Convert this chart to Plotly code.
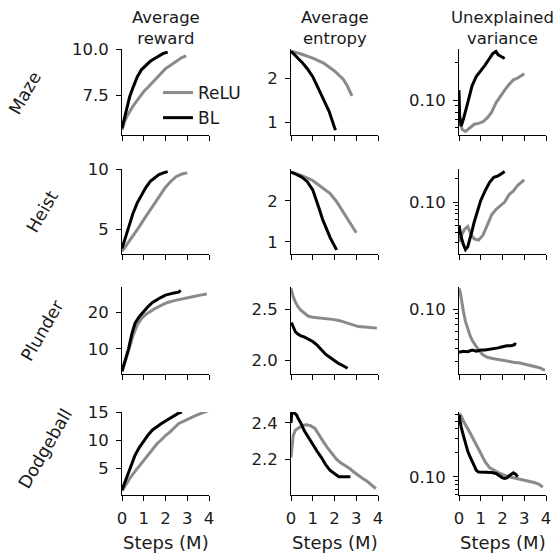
import math
import plotly.graph_objects as go

# ---------------- data ----------------
games = ["Maze", "Heist", "Plunder", "Dodgeball"]
metrics = ["Average<br>reward", "Average<br>entropy", "Unexplained<br>variance"]
series_names = ["ReLU", "BL"]

# Maze
maze_reward_relu_x = [0, 0.1, 0.25, 0.5, 0.75, 1.0, 1.25, 1.5, 1.75, 2.0, 2.25, 2.5, 2.75, 2.95]
maze_reward_relu_y = [5.6, 6.0, 6.4, 6.9, 7.3, 7.7, 8.0, 8.3, 8.6, 8.95, 9.15, 9.35, 9.55, 9.65]
maze_reward_bl_x = [0, 0.1, 0.2, 0.35, 0.5, 0.7, 0.9, 1.1, 1.3, 1.5, 1.7, 1.9, 2.1]
maze_reward_bl_y = [5.7, 6.2, 6.7, 7.4, 7.9, 8.5, 8.9, 9.15, 9.35, 9.5, 9.65, 9.78, 9.85]
maze_entropy_relu_x = [0, 0.5, 1.0, 1.5, 2.0, 2.4, 2.6, 2.8]
maze_entropy_relu_y = [2.62, 2.55, 2.46, 2.35, 2.17, 1.98, 1.82, 1.6]
maze_entropy_bl_x = [0, 0.25, 0.5, 0.75, 1.0, 1.25, 1.5, 1.75, 2.0, 2.05]
maze_entropy_bl_y = [2.62, 2.5, 2.37, 2.22, 2.04, 1.78, 1.52, 1.25, 0.88, 0.82]
maze_var_relu_x = [0.05, 0.15, 0.3, 0.5, 0.7, 0.9, 1.1, 1.3, 1.5, 1.7, 1.9, 2.1, 2.3, 2.5, 2.7, 2.9, 3.0]
maze_var_relu_y = [0.065, 0.058, 0.056, 0.06, 0.064, 0.065, 0.067, 0.072, 0.08, 0.095, 0.108, 0.12, 0.133, 0.145, 0.15, 0.157, 0.162]
maze_var_bl_x = [0, 0.03, 0.1, 0.2, 0.4, 0.6, 0.8, 1.0, 1.2, 1.4, 1.55, 1.7, 1.8, 1.9, 2.0, 2.1]
maze_var_bl_y = [0.12, 0.075, 0.062, 0.07, 0.095, 0.13, 0.155, 0.17, 0.19, 0.215, 0.235, 0.245, 0.23, 0.225, 0.22, 0.215]

# Heist
heist_reward_relu_x = [0, 0.1, 0.25, 0.5, 0.75, 1.0, 1.25, 1.5, 1.75, 2.0, 2.25, 2.5, 2.75, 3.0]
heist_reward_relu_y = [3.2, 3.4, 3.8, 4.4, 5.1, 5.8, 6.5, 7.2, 7.9, 8.5, 9.0, 9.4, 9.6, 9.7]
heist_reward_bl_x = [0, 0.1, 0.2, 0.35, 0.5, 0.7, 0.9, 1.1, 1.3, 1.5, 1.7, 1.9, 2.1]
heist_reward_bl_y = [3.4, 4.0, 4.6, 5.5, 6.3, 7.2, 7.9, 8.5, 9.0, 9.3, 9.55, 9.7, 9.8]
heist_entropy_relu_x = [0, 0.5, 1.0, 1.4, 1.8, 2.1, 2.4, 2.7, 3.0]
heist_entropy_relu_y = [2.7, 2.62, 2.5, 2.35, 2.18, 1.98, 1.72, 1.45, 1.22]
heist_entropy_bl_x = [0, 0.25, 0.5, 0.75, 1.0, 1.15, 1.3, 1.45, 1.6, 1.8, 2.0, 2.1]
heist_entropy_bl_y = [2.7, 2.65, 2.58, 2.47, 2.27, 2.05, 1.8, 1.55, 1.35, 1.1, 0.9, 0.8]
heist_var_relu_x = [0, 0.1, 0.25, 0.4, 0.55, 0.7, 0.9, 1.1, 1.3, 1.5, 1.7, 1.9, 2.1, 2.3, 2.5, 2.7, 2.9, 3.0]
heist_var_relu_y = [0.03, 0.036, 0.044, 0.048, 0.038, 0.033, 0.032, 0.037, 0.05, 0.068, 0.08, 0.09, 0.1, 0.125, 0.14, 0.165, 0.185, 0.195]
heist_var_bl_x = [0, 0.1, 0.2, 0.3, 0.4, 0.5, 0.6, 0.7, 0.8, 0.9, 1.0, 1.2, 1.4, 1.6, 1.8, 2.0, 2.1]
heist_var_bl_y = [0.05, 0.035, 0.028, 0.024, 0.026, 0.032, 0.042, 0.055, 0.068, 0.085, 0.105, 0.14, 0.18, 0.21, 0.22, 0.24, 0.25]

# Plunder
plunder_reward_relu_x = [0, 0.1, 0.2, 0.35, 0.5, 0.7, 0.9, 1.1, 1.3, 1.5, 1.8, 2.1, 2.4, 2.7, 3.0, 3.3, 3.6, 3.9]
plunder_reward_relu_y = [3.8, 5.5, 7.5, 10.5, 13.5, 16.5, 18.3, 19.4, 20.2, 20.9, 21.8, 22.6, 23.1, 23.4, 23.8, 24.2, 24.6, 24.9]
plunder_reward_bl_x = [0, 0.1, 0.2, 0.3, 0.45, 0.6, 0.8, 1.0, 1.2, 1.4, 1.6, 1.8, 2.0, 2.2, 2.4, 2.6, 2.7]
plunder_reward_bl_y = [4, 6, 8, 10, 14, 17, 18.8, 20.2, 21.5, 22.6, 23.4, 24, 24.6, 25, 25.2, 25.4, 25.9]
plunder_entropy_relu_x = [0, 0.05, 0.1, 0.2, 0.3, 0.45, 0.6, 0.8, 1.0, 1.3, 1.6, 1.9, 2.2, 2.5, 2.8, 3.1, 3.4, 3.7, 3.95]
plunder_entropy_relu_y = [2.70, 2.66, 2.62, 2.57, 2.53, 2.49, 2.46, 2.43, 2.42, 2.415, 2.41, 2.4, 2.39, 2.37, 2.35, 2.33, 2.325, 2.32, 2.315]
plunder_entropy_bl_x = [0.02, 0.1, 0.2, 0.3, 0.45, 0.6, 0.8, 1.0, 1.2, 1.4, 1.6, 1.8, 2.0, 2.2, 2.4, 2.6]
plunder_entropy_bl_y = [2.37, 2.33, 2.28, 2.26, 2.24, 2.23, 2.21, 2.185, 2.15, 2.1, 2.06, 2.03, 2.0, 1.97, 1.95, 1.925]
plunder_var_relu_x = [0, 0.05, 0.1, 0.15, 0.2, 0.3, 0.4, 0.5, 0.6, 0.75, 0.9, 1.1, 1.3, 1.6, 1.9, 2.2, 2.5, 2.8, 3.1, 3.4, 3.7, 3.95]
plunder_var_relu_y = [0.16, 0.15, 0.13, 0.11, 0.095, 0.075, 0.063, 0.055, 0.049, 0.043, 0.039, 0.035, 0.033, 0.032, 0.031, 0.030, 0.0295, 0.029, 0.028, 0.027, 0.026, 0.0245]
plunder_var_bl_x = [0, 0.2, 0.4, 0.6, 0.8, 1.0, 1.2, 1.4, 1.6, 1.8, 2.0, 2.2, 2.4, 2.55, 2.6]
plunder_var_bl_y = [0.037, 0.038, 0.0375, 0.039, 0.038, 0.039, 0.039, 0.0395, 0.04, 0.041, 0.042, 0.043, 0.043, 0.044, 0.046]

# Dodgeball
dodge_reward_relu_x = [0, 0.2, 0.4, 0.6, 0.8, 1.0, 1.2, 1.4, 1.6, 1.8, 2.0, 2.2, 2.4, 2.6, 2.8, 3.0, 3.3, 3.6, 3.95]
dodge_reward_relu_y = [1.0, 2.3, 3.5, 4.5, 5.5, 6.5, 7.5, 8.5, 9.4, 10.1, 10.9, 11.5, 12.3, 13.0, 13.4, 13.8, 14.3, 14.8, 15.3]
dodge_reward_bl_x = [0, 0.1, 0.2, 0.3, 0.45, 0.6, 0.8, 1.0, 1.2, 1.4, 1.6, 1.8, 2.0, 2.2, 2.4, 2.6, 2.75]
dodge_reward_bl_y = [1.2, 2.3, 3.4, 4.5, 6.0, 7.4, 8.8, 10.0, 11.0, 11.9, 12.5, 13.0, 13.5, 14.0, 14.5, 14.9, 15.1]
dodge_entropy_relu_x = [0, 0.05, 0.1, 0.2, 0.35, 0.5, 0.7, 0.9, 1.1, 1.3, 1.5, 1.7, 1.9, 2.1, 2.3, 2.5, 2.7, 2.9, 3.1, 3.3, 3.5, 3.7, 3.9]
dodge_entropy_relu_y = [2.21, 2.29, 2.33, 2.36, 2.375, 2.385, 2.39, 2.385, 2.37, 2.33, 2.295, 2.26, 2.23, 2.2, 2.18, 2.165, 2.15, 2.13, 2.11, 2.095, 2.08, 2.06, 2.04]
dodge_entropy_bl_x = [0, 0.03, 0.08, 0.15, 0.25, 0.35, 0.45, 0.6, 0.8, 1.0, 1.2, 1.4, 1.6, 1.8, 2.0, 2.2, 2.4, 2.6, 2.73]
dodge_entropy_bl_y = [2.40, 2.45, 2.46, 2.455, 2.445, 2.42, 2.40, 2.36, 2.32, 2.28, 2.245, 2.21, 2.17, 2.14, 2.12, 2.105, 2.105, 2.105, 2.105]
dodge_var_relu_x = [0, 0.1, 0.2, 0.35, 0.5, 0.65, 0.8, 1.0, 1.2, 1.4, 1.6, 1.8, 2.0, 2.3, 2.6, 2.9, 3.2, 3.5, 3.7, 3.85]
dodge_var_relu_y = [0.62, 0.58, 0.5, 0.43, 0.36, 0.3, 0.25, 0.195, 0.155, 0.13, 0.12, 0.113, 0.107, 0.1, 0.096, 0.092, 0.088, 0.084, 0.08, 0.074]
dodge_var_bl_x = [0, 0.05, 0.1, 0.2, 0.3, 0.4, 0.5, 0.6, 0.7, 0.8, 0.9, 1.1, 1.3, 1.5, 1.7, 1.9, 2.0, 2.1, 2.2, 2.3, 2.4, 2.5, 2.6, 2.7]
dodge_var_bl_y = [0.6, 0.5, 0.42, 0.33, 0.26, 0.21, 0.18, 0.155, 0.135, 0.12, 0.115, 0.115, 0.115, 0.113, 0.11, 0.1, 0.097, 0.095, 0.097, 0.102, 0.108, 0.112, 0.108, 0.1]

# tick labels
x_ticks = [0, 1, 2, 3, 4]
reward_ticks = [[7.5, 10.0], [5, 10], [10, 20], [5, 10, 15]]
reward_ticktext = [["7.5", "10.0"], ["5", "10"], ["10", "20"], ["5", "10", "15"]]
entropy_ticks = [[1, 2], [1, 2], [2.0, 2.5], [2.2, 2.4]]
entropy_ticktext = [["1", "2"], ["1", "2"], ["2.0", "2.5"], ["2.2", "2.4"]]
var_ticks = [0.1]
var_ticktext = ["0.10"]
var_minor = [0.02, 0.03, 0.04, 0.05, 0.06, 0.07, 0.08, 0.09, 0.2, 0.3, 0.4, 0.5, 0.6, 0.7, 0.8, 0.9]

# ---------------- layout ----------------
W, H = 560, 553
col_px = [(122, 209), (291, 378), (459, 546)]
row_px = [(49, 135), (169, 254), (287, 374), (412, 495)]
y_ranges = [
    [(5.33, 10.02), (0.71, 2.67), (0.0525, 0.256)],
    [(2.94, 10.02), (0.70, 2.78), (0.021, 0.27)],
    [(3.2, 26.8), (1.87, 2.714), (0.0225, 0.166)],
    [(0.3, 15.1), (2.005, 2.46), (0.059, 0.65)],
]

data = [
    [(maze_reward_relu_x, maze_reward_relu_y, maze_reward_bl_x, maze_reward_bl_y),
     (maze_entropy_relu_x, maze_entropy_relu_y, maze_entropy_bl_x, maze_entropy_bl_y),
     (maze_var_relu_x, maze_var_relu_y, maze_var_bl_x, maze_var_bl_y)],
    [(heist_reward_relu_x, heist_reward_relu_y, heist_reward_bl_x, heist_reward_bl_y),
     (heist_entropy_relu_x, heist_entropy_relu_y, heist_entropy_bl_x, heist_entropy_bl_y),
     (heist_var_relu_x, heist_var_relu_y, heist_var_bl_x, heist_var_bl_y)],
    [(plunder_reward_relu_x, plunder_reward_relu_y, plunder_reward_bl_x, plunder_reward_bl_y),
     (plunder_entropy_relu_x, plunder_entropy_relu_y, plunder_entropy_bl_x, plunder_entropy_bl_y),
     (plunder_var_relu_x, plunder_var_relu_y, plunder_var_bl_x, plunder_var_bl_y)],
    [(dodge_reward_relu_x, dodge_reward_relu_y, dodge_reward_bl_x, dodge_reward_bl_y),
     (dodge_entropy_relu_x, dodge_entropy_relu_y, dodge_entropy_bl_x, dodge_entropy_bl_y),
     (dodge_var_relu_x, dodge_var_relu_y, dodge_var_bl_x, dodge_var_bl_y)],
]

GRAY = "#8a8a8a"
FONT = "DejaVu Sans"
TXT = "#1a1a1a"

fig = go.Figure()
layout = {}
axis_common = dict(showline=True, linecolor="black", linewidth=1.1, showgrid=False,
                   zeroline=False, ticks="outside", ticklen=5, tickwidth=1.1,
                   tickcolor="black", tickfont=dict(family=FONT, size=16.5, color=TXT),
                   mirror=False, fixedrange=True, automargin=False)

for r in range(4):
    for c in range(3):
        i = r * 3 + c + 1
        xs = "" if i == 1 else str(i)
        rx, ry, bx, by = data[r][c]
        fig.add_trace(go.Scatter(x=rx, y=ry, mode="lines", name=series_names[0],
                                 line=dict(color=GRAY, width=3), showlegend=(i == 1),
                                 xaxis="x" + xs, yaxis="y" + xs))
        fig.add_trace(go.Scatter(x=bx, y=by, mode="lines", name=series_names[1],
                                 line=dict(color="black", width=3), showlegend=(i == 1),
                                 xaxis="x" + xs, yaxis="y" + xs))
        x0, x1 = col_px[c]
        t, b = row_px[r]
        xa = dict(axis_common, domain=[x0 / W, x1 / W], anchor="y" + xs,
                  range=[0, 4], tickmode="array", tickvals=x_ticks,
                  ticktext=[str(v) for v in x_ticks] if r == 3 else ["" for _ in x_ticks],
                  ticklabelstandoff=3)
        lo, hi = y_ranges[r][c]
        ya = dict(axis_common, domain=[1 - b / H, 1 - t / H], anchor="x" + xs,
                  tickmode="array", ticklabelstandoff=4)
        if c == 0:
            ya.update(range=[lo, hi], tickvals=reward_ticks[r], ticktext=reward_ticktext[r])
        elif c == 1:
            ya.update(range=[lo, hi], tickvals=entropy_ticks[r], ticktext=entropy_ticktext[r])
        else:
            ya.update(type="log", range=[math.log10(lo), math.log10(hi)],
                      tickvals=var_ticks, ticktext=var_ticktext,
                      minor=dict(tickmode="array", tickvals=var_minor, ticks="outside",
                                 ticklen=3, tickwidth=1, tickcolor="black", showgrid=False))
        layout["xaxis" + xs] = xa
        layout["yaxis" + xs] = ya

annotations = []
for c in range(3):
    x0, x1 = col_px[c]
    xc = (x0 + x1) / 2 / W
    annotations.append(dict(text=metrics[c], x=xc, y=1 - 28 / H,
                            xref="paper", yref="paper", xanchor="center", yanchor="middle",
                            showarrow=False, font=dict(family=FONT, size=16.5, color=TXT)))
    annotations.append(dict(text="Steps (M)", x=xc, y=1 - 542 / H,
                            xref="paper", yref="paper", xanchor="center", yanchor="middle",
                            showarrow=False, font=dict(family=FONT, size=18, color=TXT)))

label_pos = [(25, 93), (42, 212), (42, 331), (45, 449)]
for r in range(4):
    lx, ly = label_pos[r]
    annotations.append(dict(text=games[r], x=lx / W, y=1 - ly / H, xref="paper", yref="paper",
                            xanchor="center", yanchor="middle", textangle=-60,
                            showarrow=False, font=dict(family=FONT, size=17.5, color=TXT)))

fig.update_layout(**layout)
fig.update_layout(
    template="none",
    width=W, height=H, autosize=False,
    margin=dict(l=0, r=0, t=0, b=0, pad=0, autoexpand=False),
    paper_bgcolor="white", plot_bgcolor="white",
    annotations=annotations,
    legend=dict(x=158 / W, y=1 - 75 / H, xanchor="left", yanchor="top",
                bgcolor="rgba(0,0,0,0)", borderwidth=0,
                font=dict(family=FONT, size=17, color=TXT), tracegroupgap=0),
    font=dict(family=FONT),
)

fig.write_html("out.html", config={"displayModeBar": False},
               post_script="document.body.style.margin='0';document.body.style.overflow='hidden';")
